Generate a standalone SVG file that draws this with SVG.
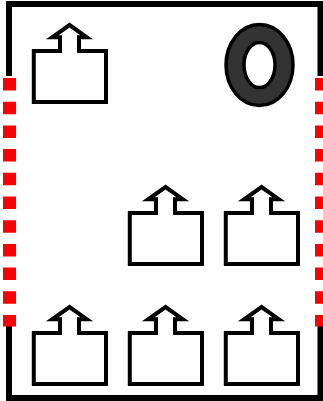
<svg xmlns="http://www.w3.org/2000/svg" width="323" height="401" viewBox="0 0 323 401">
<style>
.wall{fill:none;stroke:#000;stroke-width:6}
.door{fill:none;stroke:#f00;stroke-width:13;stroke-dasharray:12.5 11.200}
.seat{fill:#fff;stroke:#000;stroke-width:4}
.ring{fill:#333;fill-rule:evenodd;stroke:#000;stroke-width:3.5}
</style>
<defs><path id="s" class="seat" d="M33.800,51H60V37.300H52.200L69.500,25L86.800,37.300H79V51H106V102H33.800Z"/></defs>
<g id="connectors"></g>
<g id="room"><path class="wall" d="M9,76V4H320.500V76M9,326V398H320.500V326"/></g>
<g id="doors"><path class="door" d="M9.500,78V326.600"/><path class="door" d="M321.500,78V326.600"/></g>
<g id="seat1"><use href="#s"/></g>
<g id="seat2"><use href="#s" x="96" y="162"/></g>
<g id="seat3"><use href="#s" x="192" y="162"/></g>
<g id="seat4"><use href="#s" y="282"/></g>
<g id="seat5"><use href="#s" x="96" y="282"/></g>
<g id="seat6"><use href="#s" x="192" y="282"/></g>
<g id="ring"><path class="ring" d="M226,65a33.500,40.500 0 1,0 67,0a33.500,40.500 0 1,0 -67,0ZM244,65a15.500,22.500 0 1,0 31,0a15.500,22.500 0 1,0 -31,0Z"/></g>
</svg>
